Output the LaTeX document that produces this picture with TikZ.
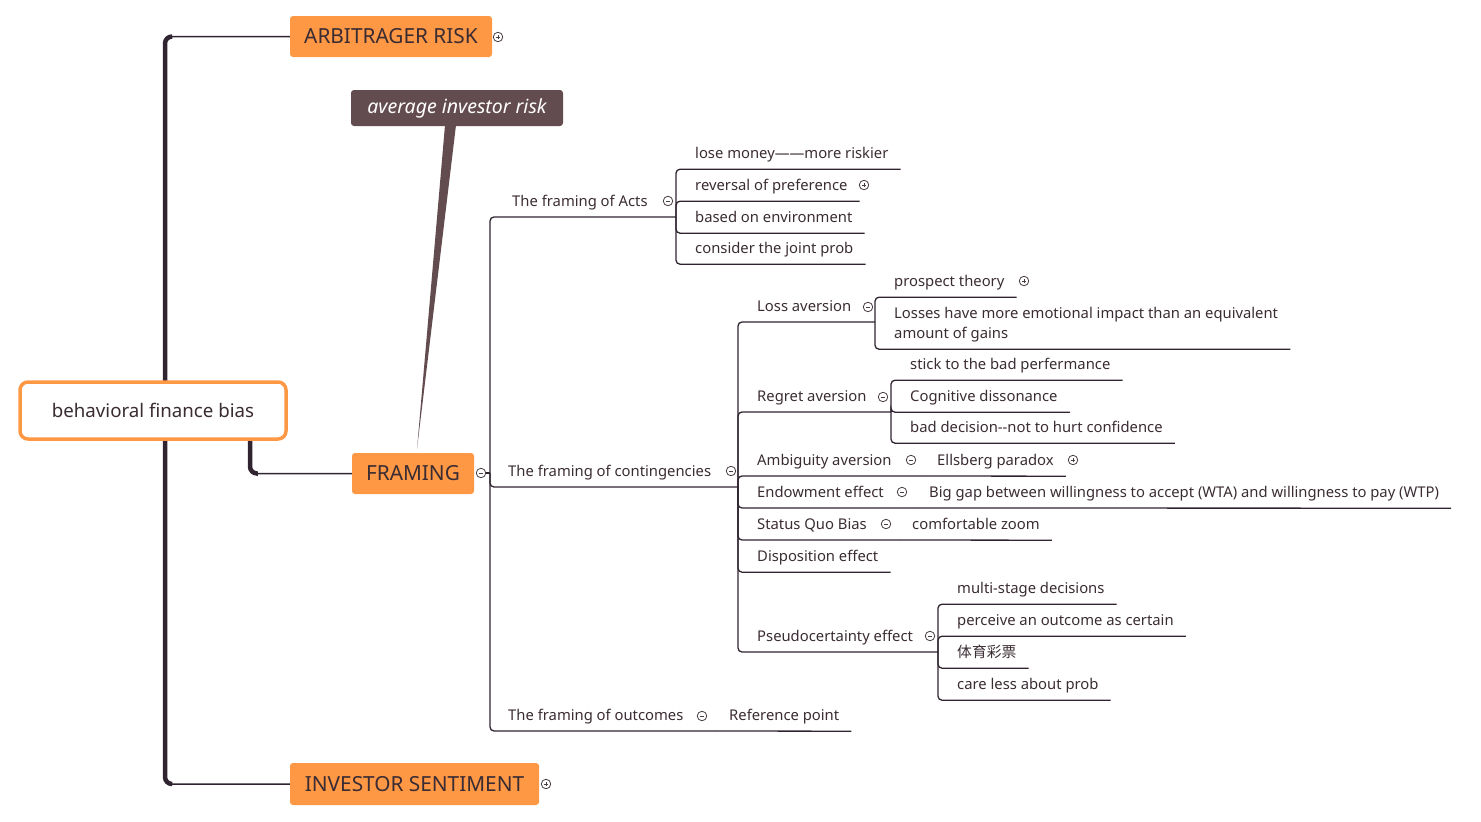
\documentclass[tikz,border=0pt]{standalone}
\usepackage{fontspec}
\setmainfont{Noto Sans}
\newfontfamily\cjk{Noto Sans CJK SC}

\definecolor{mmorange}{HTML}{FF9845}
\definecolor{mmtext}{HTML}{3A2C33}
\definecolor{mmline}{HTML}{2F2430}
\definecolor{mmnote}{HTML}{634C50}
\definecolor{mmgray}{HTML}{4A3E45}

\tikzset{
  topic/.style={anchor=base west, inner sep=0pt, text depth=11pt, text=mmtext,
    font=\fontsize{14.8}{17}\selectfont},
  link/.style={draw=mmline, line width=1.3pt, rounded corners=4pt},
  mainlink/.style={draw=mmline, line width=1.5pt, rounded corners=7pt},
  trunk/.style={draw=mmline, line width=4.5pt, rounded corners=7pt},
  mainbox/.style={fill=mmorange, rounded corners=3pt, text=mmtext, inner sep=0pt,
    minimum height=41pt, font=\fontsize{20.8}{24}\selectfont},
  foldbtn/.style={circle, draw=mmgray, line width=0.8pt, minimum size=9.5pt, inner sep=0pt,
    fill=white, path picture={
      \draw[mmgray, line width=0.8pt] ([xshift=-2.4pt]path picture bounding box.center)
        -- ([xshift=2.4pt]path picture bounding box.center);}},
  unfoldbtn/.style={foldbtn, path picture={
      \draw[mmgray, line width=0.8pt] ([xshift=-2.4pt]path picture bounding box.center)
        -- ([xshift=2.4pt]path picture bounding box.center);
      \draw[mmgray, line width=0.8pt] ([yshift=-2.4pt]path picture bounding box.center)
        -- ([yshift=2.4pt]path picture bounding box.center);}}
}

\begin{document}
\begin{tikzpicture}[x=1pt, y=-1pt]
\useasboundingbox (0,0) rectangle (1481,822);

% Main topics
\node[mainbox, minimum width=202pt] (arb) at (391,36.5) {ARBITRAGER RISK};
\node[mainbox, minimum width=122pt] (fr) at (413,473.5) {FRAMING};
\node[mainbox, minimum width=249pt, minimum height=42pt] (inv) at (414.5,784) {INVESTOR SENTIMENT};
\node[unfoldbtn] (mArb) at (498,37) {};
\node[foldbtn] (mFr) at (481,473) {};
\node[unfoldbtn] (mInv) at (546,784) {};

% Root lines
\coordinate (rt) at (165,411);
\coordinate (rf) at (250,420);
\draw[mainlink] (rt) |- (arb.west);
\draw[mainlink] (rt) |- (inv.west);
\draw[mainlink] (rf) |- (fr.west);
\draw[trunk] (rt) |- ([xshift=-118pt]arb.west);
\draw[trunk] (rt) |- ([xshift=-118pt]inv.west);
\draw[trunk] (rf) |- ([xshift=-94pt]fr.west);

% Root
\node[draw=mmorange, line width=3.5pt, fill=white, rounded corners=8pt,
  minimum width=266pt, minimum height=57pt, text=mmtext,
  font=\fontsize{18.7}{22}\selectfont] (root) at (153,410.5) {behavioral finance bias};

% Callout
\coordinate (tip) at (417,449);
\node[fill=mmnote, rounded corners=3pt, minimum width=212pt, minimum height=36pt,
  text=white, font=\fontsize{19.5}{22}\selectfont\itshape] (avg) at (457,108) {average investor risk};
\fill[mmnote] ([xshift=-12pt,yshift=1pt]avg.south) -- ([xshift=-1pt,yshift=1pt]avg.south) -- (tip) -- cycle;

% FRAMING subtopics
\coordinate (jFr) at (490,473);
\draw[link] (mFr.east) -- (jFr);
\node[topic] (acts) at (512,206) {The framing of Acts};
\node[topic] (cont) at (508,476) {The framing of contingencies};
\node[topic] (outc) at (508,720) {The framing of outcomes};
\node[foldbtn] (mActs) at (668,201) {};
\node[foldbtn] (mCont) at (731,471) {};
\node[foldbtn] (mOut) at (702,716) {};
\coordinate (jActs) at (676,217);
\coordinate (jCont) at (738,487);
\coordinate (jOut) at (716,731);
\draw[link] (jFr) |- (jActs);
\draw[link] (jFr) |- (jCont);
\draw[link] (jFr) |- (jOut);

% Acts
\node[topic] (lose) at (695,158) {lose money——more riskier};
\node[topic] (rev) at (695,190) {reversal of preference};
\node[topic] (based) at (695,222) {based on environment};
\node[topic] (joint) at (695,253) {consider the joint prob};
\node[unfoldbtn] (mRev) at (864,185) {};
\foreach \n in {lose,rev,based,joint}
  \draw[link] (jActs) |- ([xshift=12pt]\n.south east);

% Outcomes
\node[topic] (refp) at (729,720) {Reference point};
\draw[link] (jOut) -- ([xshift=12pt]refp.south east);

% Contingencies
\node[topic] (lossav) at (757,311) {Loss aversion};
\node[topic] (regret) at (757,401) {Regret aversion};
\node[topic] (ambig) at (757,465) {Ambiguity aversion};
\node[topic] (endow) at (757,497) {Endowment effect};
\node[topic] (status) at (757,529) {Status Quo Bias};
\node[topic] (dispo) at (757,561) {Disposition effect};
\node[topic] (pseudo) at (757,641) {Pseudocertainty effect};
\node[foldbtn] (mLoss) at (868,307) {};
\node[foldbtn] (mReg) at (883,397) {};
\node[foldbtn] (mAmb) at (911,460) {};
\node[foldbtn] (mEnd) at (902,492) {};
\node[foldbtn] (mSq) at (886,524) {};
\node[foldbtn] (mPs) at (930,636) {};
\coordinate (jLoss) at (875,322);
\coordinate (jReg) at (891,412);
\coordinate (jAmb) at (925,476);
\coordinate (jEnd) at (918,508);
\coordinate (jSq) at (900,540);
\coordinate (jPs) at (938,652);
\foreach \j in {jLoss,jReg,jAmb,jEnd,jSq,jPs}
  \draw[link] (jCont) |- (\j);
\draw[link] (jCont) |- ([xshift=12pt]dispo.south east);

% Loss aversion
\node[topic] (pros) at (894,286) {prospect theory};
\node[unfoldbtn] (mPros) at (1024,281) {};
\node[anchor=north west, inner sep=0pt, align=left, text=mmtext,
  font=\fontsize{14.8}{20}\selectfont] (losses) at (894,307)
  {Losses have more emotional impact than an equivalent\\amount of gains};
\draw[link] (jLoss) |- ([xshift=12pt]pros.south east);
\draw[link] (jLoss) |- ([xshift=12pt,yshift=-7pt]losses.south east);

% Regret aversion
\node[topic] (stick) at (910,369) {stick to the bad perfermance};
\node[topic] (cogn) at (910,401) {Cognitive dissonance};
\node[topic] (baddec) at (910,432) {bad decision-{}-not to hurt confidence};
\foreach \n in {stick,cogn,baddec}
  \draw[link] (jReg) |- ([xshift=12pt]\n.south east);

% Single children
\node[topic] (ells) at (937,465) {Ellsberg paradox};
\node[unfoldbtn] (mElls) at (1073,460) {};
\node[topic] (gap) at (929,497) {Big gap between willingness to accept (WTA) and willingness to pay (WTP)};
\node[topic] (comf) at (912,529) {comfortable zoom};
\draw[link] (jAmb) -- ([xshift=12pt]ells.south east);
\draw[link] (jEnd) -- ([xshift=12pt]gap.south east);
\draw[link] (jSq) -- ([xshift=12pt]comf.south east);

% Pseudocertainty
\node[topic] (multi) at (957,593) {multi-stage decisions};
\node[topic] (perc) at (957,625) {perceive an outcome as certain};
\node[topic] (lott) at (957,657) {\cjk 体育彩票};
\node[topic] (care) at (957,689) {care less about prob};
\foreach \n in {multi,perc,lott,care}
  \draw[link] (jPs) |- ([xshift=12pt]\n.south east);
\end{tikzpicture}
\end{document}
